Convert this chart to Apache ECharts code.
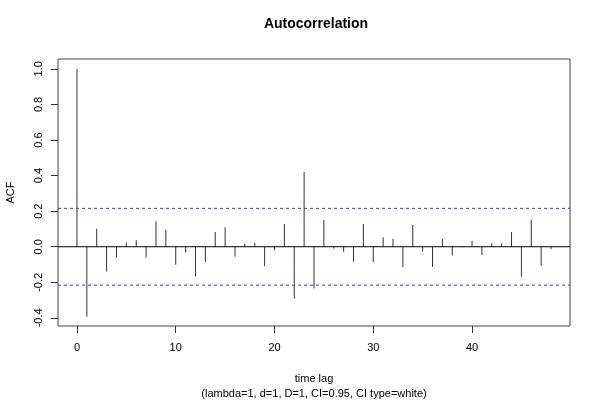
<!DOCTYPE html>
<html>
<head>
<meta charset="utf-8">
<script src="https://cdn.jsdelivr.net/npm/echarts@6/dist/echarts.min.js"></script>
<style>html,body{margin:0;padding:0;background:#fff}#c{width:600px;height:400px}</style>
</head>
<body>
<div id="c"></div>
<script>
var lags = [];
for (var i = 0; i <= 48; i++) lags.push(i);
var acfValues = [1.0, -0.394, 0.101, -0.139, -0.062, 0.024, 0.036, -0.060, 0.143, 0.096,
  -0.101, -0.032, -0.167, -0.086, 0.083, 0.109, -0.056, 0.015, 0.023, -0.109,
  -0.019, 0.128, -0.293, 0.420, -0.235, 0.150, -0.011, -0.028, -0.084, 0.128,
  -0.086, 0.053, 0.045, -0.114, 0.122, -0.028, -0.114, 0.043, -0.049, -0.003,
  0.034, -0.047, 0.019, 0.019, 0.083, -0.169, 0.152, -0.107, -0.013];
var ciBounds = [0.216, -0.216];
var xRange = [-1.92, 49.92];
var yRange = [-0.4456, 1.0556];
var xTicks = [0, 10, 20, 30, 40];
var yTicks = [-0.4, -0.2, 0.0, 0.2, 0.4, 0.6, 0.8, 1.0];
var titleText = 'Autocorrelation';
var xName = 'time lag';
var subName = '(lambda=1, d=1, D=1, CI=0.95, CI type=white)';
var yName = 'ACF';

var font = 'Liberation Sans, Arial, Helvetica, sans-serif';
var chart = echarts.init(document.getElementById('c'), null, {renderer: 'canvas'});
var pts = lags.map(function (l, i) { return [l, acfValues[i]]; });
function hline(v) { return [[xRange[0], v], [xRange[1], v]]; }
chart.setOption({
  animation: false,
  backgroundColor: '#fff',
  title: {
    text: titleText, left: 311, top: 12, textAlign: 'center',
    textStyle: {fontFamily: font, fontSize: 14, fontWeight: 'bold', color: '#000'}
  },
  grid: {left: 58, right: 30, top: 59, bottom: 74, show: true, borderColor: '#444', borderWidth: 1,
    backgroundColor: 'transparent', containLabel: false, outerBoundsMode: 'none'},
  xAxis: {
    type: 'value', min: xRange[0], max: xRange[1],
    name: xName + '\n' + subName, nameLocation: 'middle', nameGap: 45,
    nameTextStyle: {fontFamily: font, fontSize: 11, color: '#000', lineHeight: 15},
    axisLine: {show: false, onZero: false},
    splitLine: {show: false},
    axisTick: {show: true, customValues: xTicks, length: 7, lineStyle: {color: '#333'}},
    axisLabel: {customValues: xTicks, margin: 16, fontFamily: font, fontSize: 11, color: '#000'}
  },
  yAxis: {
    type: 'value', min: yRange[0], max: yRange[1],
    name: yName, nameLocation: 'middle', nameGap: 42, nameRotate: 90,
    nameTextStyle: {fontFamily: font, fontSize: 11, color: '#000'},
    axisLine: {show: false, onZero: false},
    splitLine: {show: false},
    axisTick: {show: true, customValues: yTicks, length: 7, lineStyle: {color: '#333'}},
    axisLabel: {customValues: yTicks, rotate: 90, margin: 14, fontFamily: font, fontSize: 11, color: '#000',
      formatter: function (v) { return v.toFixed(1); }}
  },
  series: [{
    type: 'line', data: hline(0), symbol: 'none', silent: true,
    lineStyle: {color: '#000', width: 1, type: 'solid'}
  }, {
    type: 'line', data: hline(ciBounds[0]), symbol: 'none', silent: true,
    lineStyle: {color: '#3333ff', width: 1, type: [3, 3]}
  }, {
    type: 'line', data: hline(ciBounds[1]), symbol: 'none', silent: true,
    lineStyle: {color: '#3333ff', width: 1, type: [3, 3]}
  }, {
    type: 'bar',
    data: pts,
    barWidth: 1,
    itemStyle: {color: '#333'}
  }]
});
</script>
</body>
</html>
